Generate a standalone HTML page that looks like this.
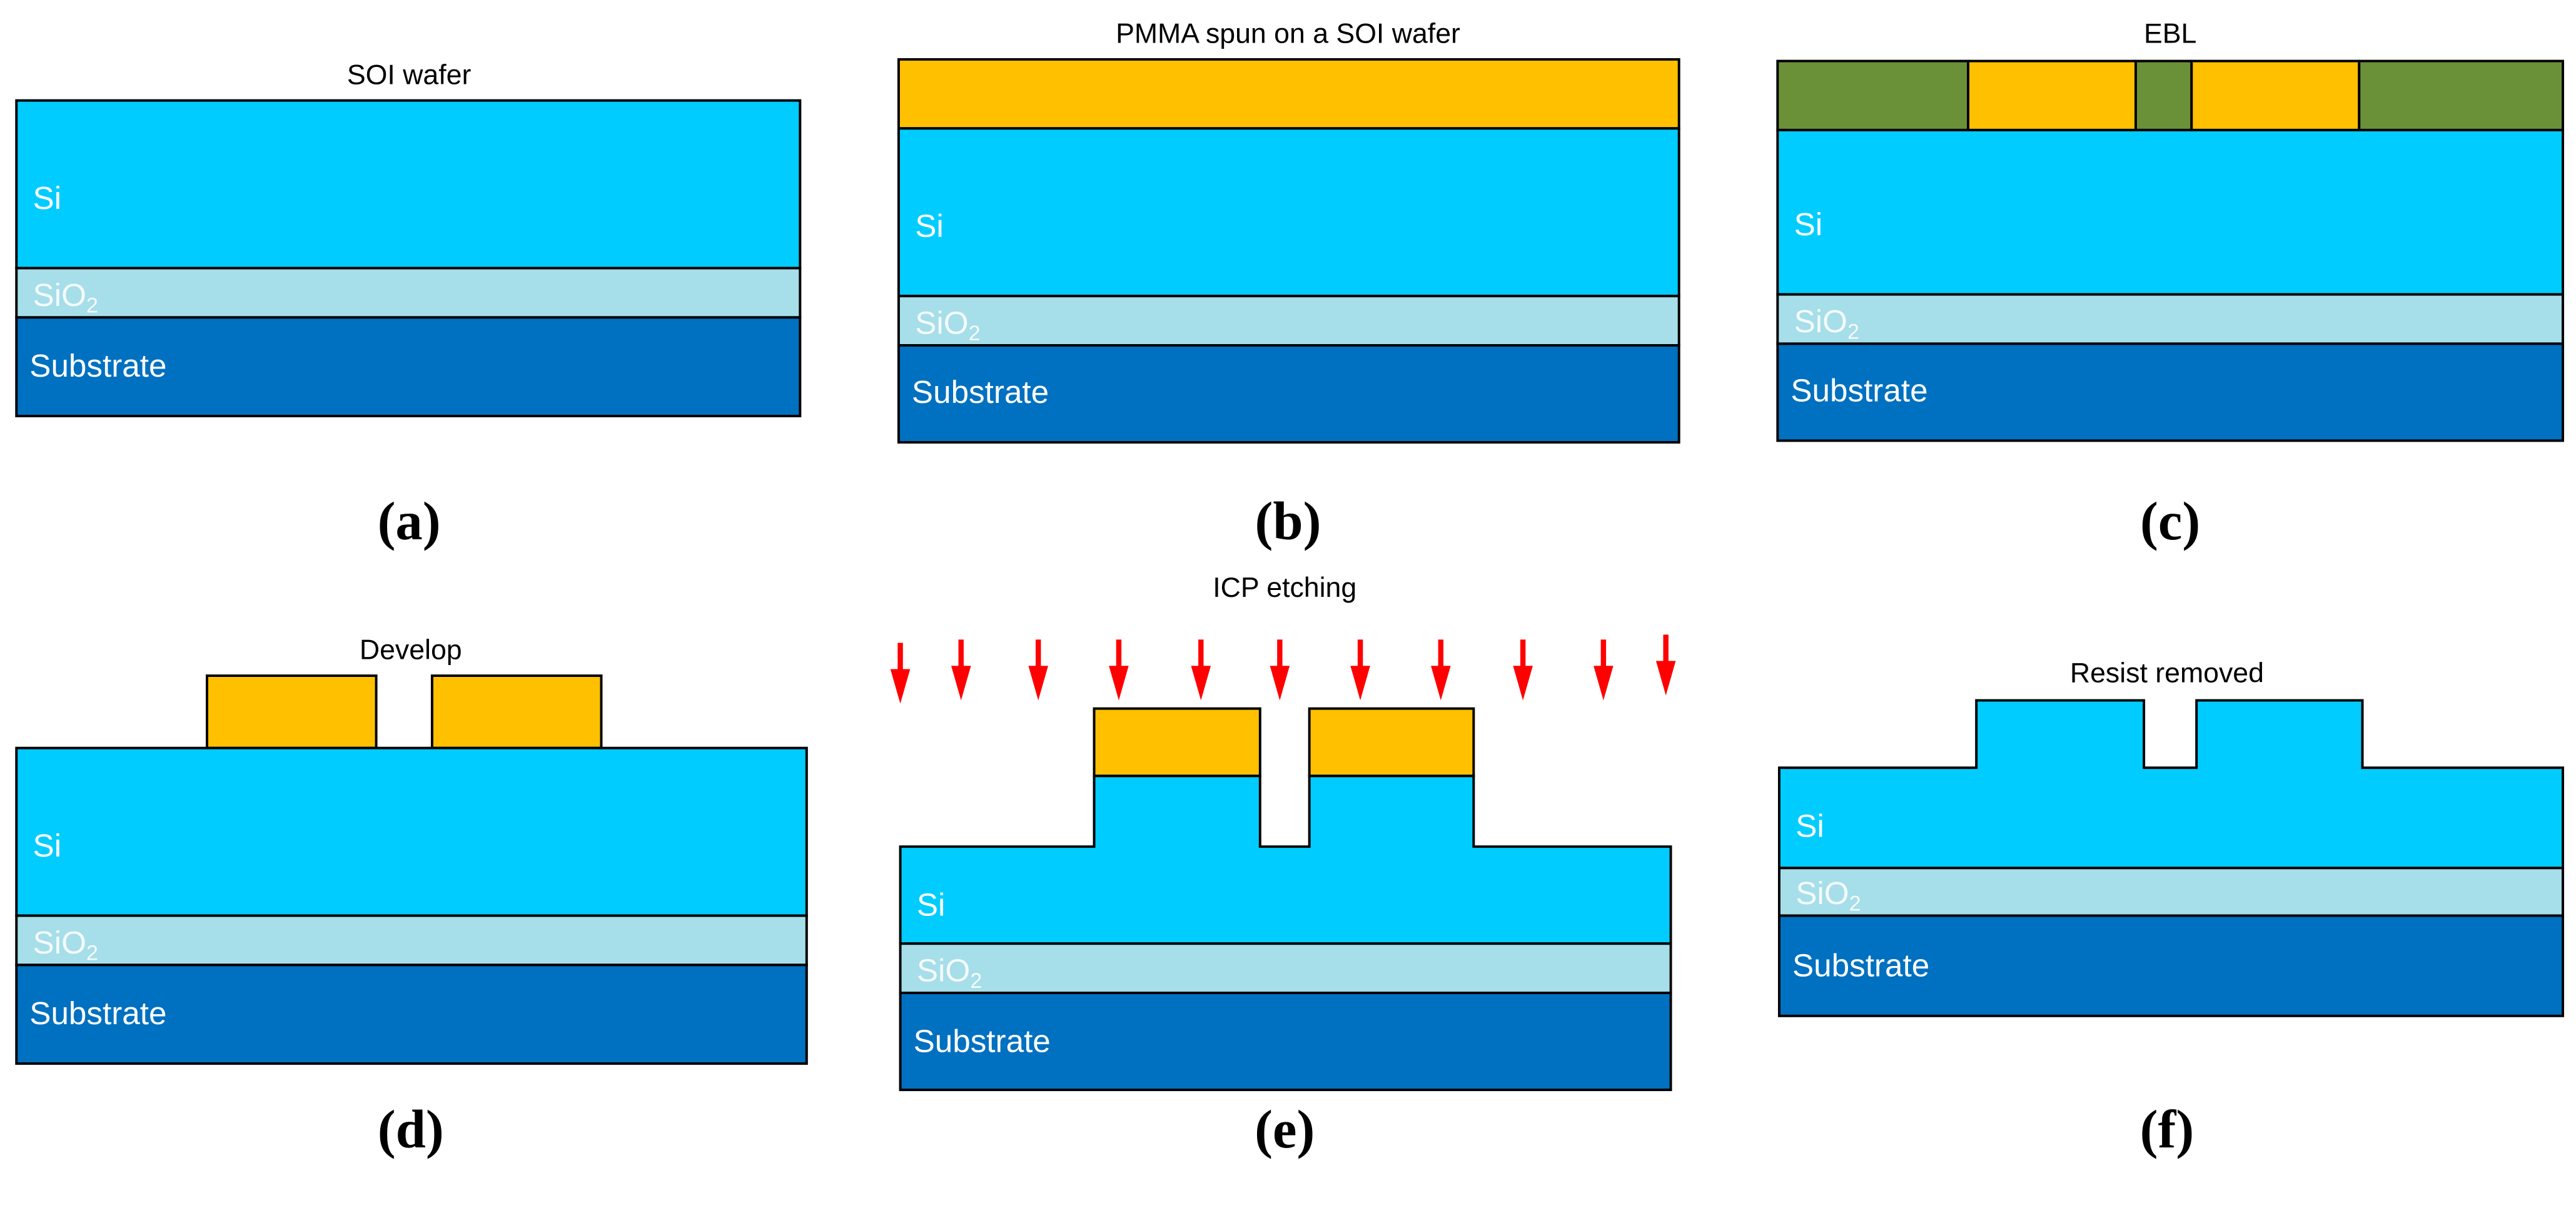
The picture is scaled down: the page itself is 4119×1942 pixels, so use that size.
<!DOCTYPE html>
<html><head><meta charset="utf-8"><style>html,body{margin:0;padding:0;background:#fff}svg{display:block}</style></head>
<body>
<svg width="4119" height="1942" viewBox="0 0 1568 739" xmlns="http://www.w3.org/2000/svg">
<defs>
<g id="arr"><line x1="0" y1="0" x2="0" y2="22" stroke="#FF0000" stroke-width="3.2"/><polygon points="-6,16 6,16 0,37" fill="#FF0000"/></g>
</defs>
<style>
.t{font-family:"Liberation Sans",sans-serif;font-size:17px;fill:#000;text-anchor:middle}
.w{font-family:"Liberation Sans",sans-serif;font-size:19.5px;fill:#fff}
.g{font-family:"Liberation Sans",sans-serif;font-size:19.5px;fill:#f4fbfd}
.lab{font-family:"Liberation Serif",serif;font-size:33px;font-weight:bold;fill:#000;text-anchor:middle}
rect,polygon.s{stroke:#000;stroke-width:1.5}
</style>
<!-- a -->
<text class="t" x="249" y="51">SOI wafer</text>
<rect x="10" y="61" width="477" height="102" fill="#00CCFF"/>
<rect x="10" y="163" width="477" height="30" fill="#A6DEE9"/>
<rect x="10" y="193" width="477" height="60" fill="#0070C0"/>
<text class="w" x="20" y="127">Si</text>
<text class="g" x="20" y="186">SiO<tspan font-size="13" dy="4">2</tspan></text>
<text class="w" x="18" y="229">Substrate</text>
<text class="lab" x="249" y="328">(a)</text>
<!-- b -->
<text class="t" x="784" y="26">PMMA spun on a SOI wafer</text>
<rect x="547" y="36" width="475" height="42" fill="#FFC000"/>
<rect x="547" y="78" width="475" height="102" fill="#00CCFF"/>
<rect x="547" y="180" width="475" height="30" fill="#A6DEE9"/>
<rect x="547" y="210" width="475" height="59" fill="#0070C0"/>
<text class="w" x="557" y="144">Si</text>
<text class="g" x="557" y="203">SiO<tspan font-size="13" dy="4">2</tspan></text>
<text class="w" x="555" y="245">Substrate</text>
<text class="lab" x="784" y="328">(b)</text>
<!-- c -->
<text class="t" x="1321" y="26">EBL</text>
<rect x="1082" y="37" width="116" height="42" fill="#6B9138"/>
<rect x="1198" y="37" width="102" height="42" fill="#FFC000"/>
<rect x="1300" y="37" width="34" height="42" fill="#6B9138"/>
<rect x="1334" y="37" width="102" height="42" fill="#FFC000"/>
<rect x="1436" y="37" width="124" height="42" fill="#6B9138"/>
<rect x="1082" y="79" width="478" height="100" fill="#00CCFF"/>
<rect x="1082" y="179" width="478" height="30" fill="#A6DEE9"/>
<rect x="1082" y="209" width="478" height="59" fill="#0070C0"/>
<text class="w" x="1092" y="143">Si</text>
<text class="g" x="1092" y="202">SiO<tspan font-size="13" dy="4">2</tspan></text>
<text class="w" x="1090" y="244">Substrate</text>
<text class="lab" x="1321" y="328">(c)</text>
<!-- d -->
<text class="t" x="250" y="401">Develop</text>
<rect x="126" y="411" width="103" height="44" fill="#FFC000"/>
<rect x="263" y="411" width="103" height="44" fill="#FFC000"/>
<rect x="10" y="455" width="481" height="102" fill="#00CCFF"/>
<rect x="10" y="557" width="481" height="30" fill="#A6DEE9"/>
<rect x="10" y="587" width="481" height="60" fill="#0070C0"/>
<text class="w" x="20" y="521">Si</text>
<text class="g" x="20" y="580">SiO<tspan font-size="13" dy="4">2</tspan></text>
<text class="w" x="18" y="623">Substrate</text>
<text class="lab" x="250" y="698">(d)</text>
<!-- e -->
<text class="t" x="782" y="363">ICP etching</text>
<use href="#arr" x="548" y="391"/><use href="#arr" x="585" y="389"/><use href="#arr" x="632" y="389"/>
<use href="#arr" x="681" y="389"/><use href="#arr" x="731" y="389"/><use href="#arr" x="779" y="389"/>
<use href="#arr" x="828" y="389"/><use href="#arr" x="877" y="389"/><use href="#arr" x="927" y="389"/>
<use href="#arr" x="976" y="389"/><use href="#arr" x="1014" y="386"/>
<rect x="666" y="431" width="101" height="41" fill="#FFC000"/>
<rect x="797" y="431" width="100" height="41" fill="#FFC000"/>
<polygon class="s" points="548,515 666,515 666,472 767,472 767,515 797,515 797,472 897,472 897,515 1017,515 1017,574 548,574" fill="#00CCFF"/>
<rect x="548" y="574" width="469" height="30" fill="#A6DEE9"/>
<rect x="548" y="604" width="469" height="59" fill="#0070C0"/>
<text class="w" x="558" y="557">Si</text>
<text class="g" x="558" y="597">SiO<tspan font-size="13" dy="4">2</tspan></text>
<text class="w" x="556" y="640">Substrate</text>
<text class="lab" x="782" y="698">(e)</text>
<!-- f -->
<text class="t" x="1319" y="415">Resist removed</text>
<polygon class="s" points="1083,467 1203,467 1203,426 1305,426 1305,467 1337,467 1337,426 1438,426 1438,467 1560,467 1560,528 1083,528" fill="#00CCFF"/>
<rect x="1083" y="528" width="477" height="29" fill="#A6DEE9"/>
<rect x="1083" y="557" width="477" height="61" fill="#0070C0"/>
<text class="w" x="1093" y="509">Si</text>
<text class="g" x="1093" y="550">SiO<tspan font-size="13" dy="4">2</tspan></text>
<text class="w" x="1091" y="594">Substrate</text>
<text class="lab" x="1319" y="698">(f)</text>
</svg>
</body></html>
